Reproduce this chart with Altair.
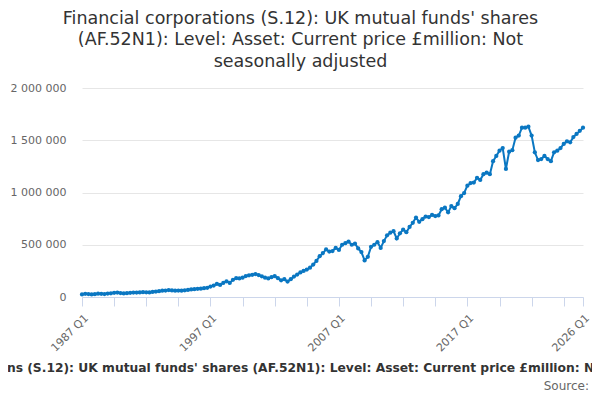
import altair as alt
import pandas as pd

values_k = [
    # 1987 Q1 - 1989 Q2
    25, 30, 28, 24, 27, 32, 30, 28, 33, 35,
    # 1989 Q3 - 1991 Q4
    40, 42, 38, 34, 36, 40, 43, 42, 44, 46,
    # 1992 Q1 - 1994 Q2
    45, 44, 48, 52, 56, 60, 62, 66, 63, 60,
    # 1994 Q3 - 1996 Q4
    62, 61, 64, 68, 72, 75, 78, 80, 84, 88,
    # 1997 Q1 - 1999 Q2
    100, 110, 125, 115, 135, 150, 135, 165, 180, 178,
    # 1999 Q3 - 2001 Q4
    185, 200, 208, 212, 220, 210, 198, 185, 178, 190,
    # 2002 Q1 - 2004 Q2
    200, 180, 160, 170, 148, 170, 195, 215, 235, 250,
    # 2004 Q3 - 2006 Q4
    263, 280, 310, 345, 390, 420, 455, 435, 440, 470,
    # 2007 Q1 - 2009 Q2
    450, 500, 515, 530, 500, 510, 465, 430, 350, 385,
    # 2009 Q3 - 2011 Q4
    480, 500, 525, 470, 535, 590, 615, 630, 560, 610,
    # 2012 Q1 - 2014 Q2
    645, 620, 670, 710, 760, 720, 745, 770, 765, 785,
    # 2014 Q3 - 2016 Q4
    775, 780, 840, 855, 810, 870, 850, 890, 965, 995,
    # 2017 Q1 - 2019 Q2
    1065, 1090, 1095, 1140, 1120, 1175, 1190, 1175, 1300, 1350,
    # 2019 Q3 - 2021 Q4
    1400, 1425, 1225, 1390, 1405, 1525, 1545, 1620, 1620, 1630,
    # 2022 Q1 - 2024 Q2
    1545, 1385, 1310, 1320, 1350, 1320, 1300, 1385, 1400, 1425,
    # 2024 Q3 - 2026 Q1
    1465, 1490, 1480, 1530, 1560, 1590, 1620,
]

quarters = [f"{1987 + i // 4} Q{i % 4 + 1}" for i in range(len(values_k))]
tick_quarters = quarters[::10] + [quarters[-1]]
label_quarters = ["1987 Q1", "1997 Q1", "2007 Q1", "2017 Q1", "2026 Q1"]
y_ticks = [0, 500000, 1000000, 1500000, 2000000]

title_lines = [
    "Financial corporations (S.12): UK mutual funds' shares",
    "(AF.52N1): Level: Asset: Current price £million: Not",
    "seasonally adjusted",
]
axis_title = ("Financial corporations (S.12): UK mutual funds' shares (AF.52N1): "
              "Level: Asset: Current price £million: Not seasonally adjusted")
source_text = "Source:"

df = pd.DataFrame({"quarter": quarters, "value": [v * 1000 for v in values_k]})

FONT = "DejaVu Sans"
BLUE = "#0a77c2"

label_test = " || ".join(f"datum.value == '{q}'" for q in label_quarters)

x = alt.X(
    "quarter:O",
    sort=None,
    scale=alt.Scale(type="point", padding=0),
    axis=alt.Axis(
        values=tick_quarters,
        labelExpr=f"({label_test}) ? datum.value : ''",
        labelAngle=-45,
        labelAlign="right",
        labelBaseline="top",
        labelPadding=6,
        labelFontSize=11,
        labelColor="#666666",
        labelFont=FONT,
        labelOverlap=False,
        tickColor="#ccd6eb",
        tickSize=9,
        domainColor="#ccd6eb",
        grid=False,
        title=axis_title,
        titleFont=FONT,
        titleFontSize=12.3,
        titleFontWeight="bold",
        titleColor="#333333",
        titleX=227,
        titleY=74,
        titleBaseline="alphabetic",
        titleAlign="center",
    ),
)

y = alt.Y(
    "value:Q",
    scale=alt.Scale(domain=[0, 2000000], nice=False),
    axis=alt.Axis(
        values=y_ticks,
        labelExpr="replace(replace(format(datum.value, ','), ',', ' '), ',', ' ')",
        labelFontSize=11,
        labelColor="#666666",
        labelFont=FONT,
        labelPadding=16,
        ticks=False,
        domain=False,
        gridColor="#e6e6e6",
        title=None,
    ),
)

line = alt.Chart(df).mark_line(
    color=BLUE, strokeWidth=2, point=alt.OverlayMarkDef(color=BLUE, size=18, filled=True)
).encode(x=x, y=y)

source = alt.Chart(pd.DataFrame({"t": [source_text]})).mark_text(
    font=FONT, fontSize=12, color="#666666", align="right", baseline="alphabetic"
).encode(text="t:N", x=alt.value(507), y=alt.value(302))

chart = alt.layer(line, source).properties(
    width=501,
    height=209,
    autosize=alt.AutoSizeParams(type="none"),
    padding={"left": 74, "top": 80, "right": 9, "bottom": 95},
    title=alt.TitleParams(
        text=title_lines,
        font=FONT,
        fontSize=17.5,
        fontWeight="normal",
        color="#333333",
        lineHeight=21.5,
        anchor="middle",
        dx=-32,
        offset=12,
    ),
).configure_view(stroke=None)

chart.save("out.html", embed_options={"renderer": "svg", "actions": False})
